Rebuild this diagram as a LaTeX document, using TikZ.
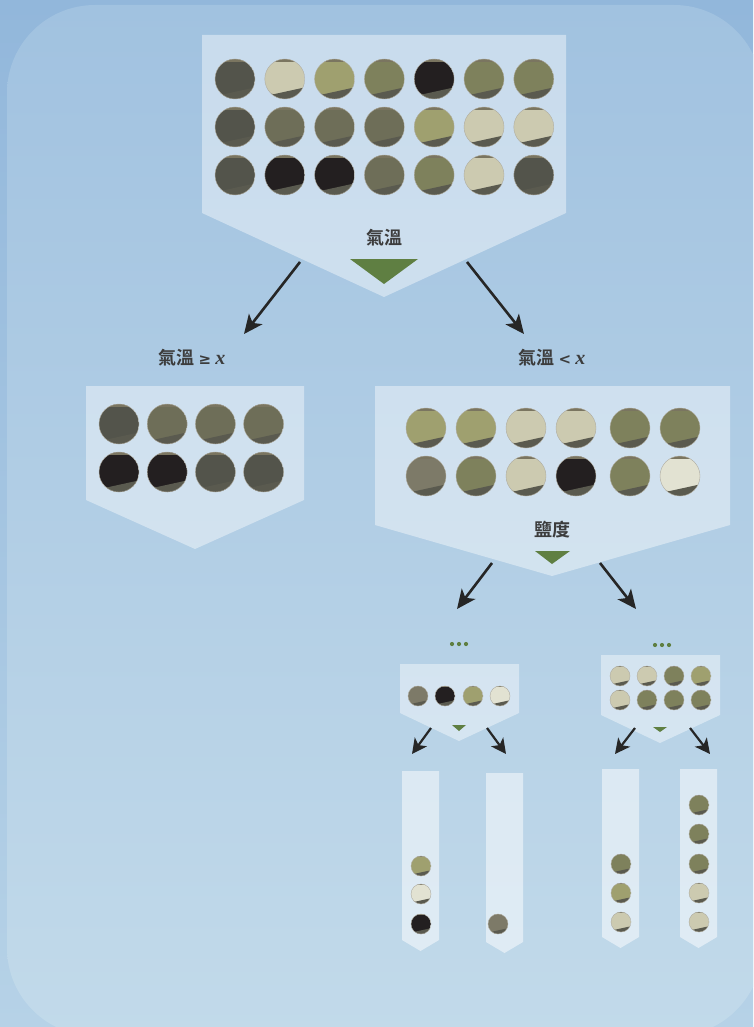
\documentclass[tikz,border=0pt]{standalone}
\usepackage{fontspec}
\newfontfamily\cjk{Noto Sans CJK TC}[BoldFont={* Bold}]
\newfontfamily\symfont{DejaVu Sans}
\newfontfamily\varfont{Liberation Serif}
\usetikzlibrary{arrows.meta}

\definecolor{bgtop}{HTML}{92B7DB}
\definecolor{bgbot}{HTML}{B6D2E7}
\definecolor{cardtop}{HTML}{A1C2E0}
\definecolor{cardbot}{HTML}{C2DAEA}
\definecolor{leaf}{HTML}{5F7F42}
\definecolor{ink}{HTML}{262626}
\definecolor{shadow}{HTML}{5A5A4F}
\definecolor{rim}{HTML}{7A7560}
% pebble colours
\definecolor{pD}{HTML}{53544B}
\definecolor{pK}{HTML}{231F20}
\definecolor{pL}{HTML}{CCCAB0}
\definecolor{pW}{HTML}{E2E2D2}
\definecolor{pY}{HTML}{9FA06F}
\definecolor{pO}{HTML}{7E815C}
\definecolor{pG}{HTML}{6E6E58}
\definecolor{pT}{HTML}{7D7A68}

\newcommand\relsym[1]{{\symfont\bfseries\fontsize{15}{18}\selectfont #1}}
\newcommand\varx{{\varfont\bfseries\itshape\fontsize{20}{20}\selectfont x}}

\tikzset{
  panel/.style={fill=white, fill opacity=0.42, draw=none},
  split/.style={draw=ink, line width=2.6pt, -{Stealth[length=19pt,width=17pt,inset=5pt]}},
  splitsm/.style={draw=ink, line width=2.2pt, -{Stealth[length=15pt,width=15pt,inset=4pt]}},
  cue/.style={fill=leaf, draw=none},
  feature/.style={font=\cjk\bfseries\fontsize{18}{20}\selectfont, text=ink!90!white},
  dots/.style={fill=leaf, draw=none},
}

% a pebble: centre x, centre y, radius, colour
\newcommand\pebble[4]{%
  \begin{scope}
    \clip (#1,#2) circle (#3);
    \fill[#4] (#1,#2) circle (#3);
    \fill[rim] (#1-#3,#2-0.86*#3) rectangle (#1+#3,#2-#3);
    \fill[shadow] (#1-#3,#2+0.66*#3) -- (#1-0.55*#3,#2+0.76*#3)
       -- (#1+#3,#2+0.42*#3) -- (#1+#3,#2+#3) -- (#1-#3,#2+#3) -- cycle;
  \end{scope}
  \draw[rim!60!white, line width=0.4pt] (#1,#2) circle (#3);
}

\begin{document}
\begin{tikzpicture}[x=1pt,y=-1pt]
\useasboundingbox (0,0) rectangle (753,1027);
\clip (0,0) rectangle (753,1027);

% backdrop and card
\shade[top color=bgtop, bottom color=bgbot] (0,0) rectangle (753,1027);
\shade[top color=cardtop, bottom color=cardbot, rounded corners=88pt]
  (7,5) rectangle (762,1036);

% ---------- root ----------
\fill[panel] (202,35) -- (566,35) -- (566,213) -- (384,297) -- (202,213) -- cycle;
\foreach \c [count=\i from 0] in {pD,pL,pY,pO,pK,pO,pO}
  \pebble{235+49.8*\i}{79}{20}{\c};
\foreach \c [count=\i from 0] in {pD,pG,pG,pG,pY,pL,pL}
  \pebble{235+49.8*\i}{127}{20}{\c};
\foreach \c [count=\i from 0] in {pD,pK,pK,pG,pO,pL,pD}
  \pebble{235+49.8*\i}{175}{20}{\c};
\node[feature] (rootlbl) at (384,238) {氣溫};
\fill[cue] (350,259) -- (418,259) -- (384,284) -- cycle;

\coordinate (rootL) at (300,262);
\coordinate (rootR) at (467,262);
\coordinate (leftIn) at (244,334);
\coordinate (rightIn) at (524,334);
\draw[split] (rootL) -- (leftIn);
\draw[split] (rootR) -- (rightIn);

\node[feature] (leftlbl) at (192,358) {氣溫 \relsym{≥} \varx};
\node[feature] (rightlbl) at (552,358) {氣溫 \relsym{<} \varx};

% ---------- left child ----------
\fill[panel] (86,386) -- (304,386) -- (304,500) -- (195,549) -- (86,500) -- cycle;
\foreach \c [count=\i from 0] in {pD,pG,pG,pG}
  \pebble{119+48.2*\i}{424}{20}{\c};
\foreach \c [count=\i from 0] in {pK,pK,pD,pD}
  \pebble{119+48.2*\i}{472}{20}{\c};

% ---------- right child ----------
\fill[panel] (375,386) -- (730,386) -- (730,525) -- (552,576) -- (375,525) -- cycle;
\foreach \c/\x in {pY/426,pY/476,pL/526,pL/576,pO/630,pO/680}
  \pebble{\x}{428}{20}{\c};
\foreach \c/\x in {pT/426,pO/476,pL/526,pK/576,pO/630,pW/680}
  \pebble{\x}{476}{20}{\c};
\node[feature] (saltlbl) at (552,530) {鹽度};
\fill[cue] (535,551) -- (570,551) -- (552,564) -- cycle;

\coordinate (saltL) at (492,563);
\coordinate (saltR) at (600,563);
\coordinate (smallLIn) at (457,609);
\coordinate (smallRIn) at (636,609);
\draw[split] (saltL) -- (smallLIn);
\draw[split] (saltR) -- (smallRIn);

% ---------- small subtrees ----------
\foreach \x in {452,459,466} \fill[dots] (\x,644) circle (2.1);
\foreach \x in {655,662,669} \fill[dots] (\x,645) circle (2.1);

\fill[panel] (400,664) -- (519,664) -- (519,713) -- (459,741) -- (400,713) -- cycle;
\foreach \c/\x in {pT/418,pK/445,pY/473,pW/500}
  \pebble{\x}{696}{10}{\c};
\fill[cue] (452,725) -- (466,725) -- (459,731) -- cycle;

\fill[panel] (601,655) -- (720,655) -- (720,715) -- (660,743) -- (601,715) -- cycle;
\foreach \c/\x in {pL/620,pL/647,pO/674,pY/701}
  \pebble{\x}{676}{10}{\c};
\foreach \c/\x in {pL/620,pO/647,pO/674,pO/701}
  \pebble{\x}{700}{10}{\c};
\fill[cue] (653,727) -- (667,727) -- (660,732) -- cycle;

\coordinate (aL1) at (431,728); \coordinate (bL1) at (412,754);
\coordinate (aL2) at (487,728); \coordinate (bL2) at (506,754);
\coordinate (aR1) at (635,728); \coordinate (bR1) at (615,754);
\coordinate (aR2) at (690,728); \coordinate (bR2) at (710,754);
\draw[splitsm] (aL1) -- (bL1);
\draw[splitsm] (aL2) -- (bL2);
\draw[splitsm] (aR1) -- (bR1);
\draw[splitsm] (aR2) -- (bR2);

% ---------- leaves ----------
\fill[panel, fill opacity=0.5] (402,771) -- (439,771) -- (439,940) -- (420.5,951) -- (402,940) -- cycle;
\foreach \c/\y in {pY/866,pW/894,pK/924} \pebble{421}{\y}{10}{\c};

\fill[panel, fill opacity=0.5] (486,773) -- (523,773) -- (523,942) -- (504.5,953) -- (486,942) -- cycle;
\pebble{498}{924}{10}{pT}

\fill[panel, fill opacity=0.5] (602,769) -- (639,769) -- (639,937) -- (620.5,948) -- (602,937) -- cycle;
\foreach \c/\y in {pO/864,pY/893,pL/922} \pebble{621}{\y}{10}{\c};

\fill[panel, fill opacity=0.5] (680,769) -- (717,769) -- (717,937) -- (698.5,948) -- (680,937) -- cycle;
\foreach \c/\y in {pO/805,pO/834,pO/864,pL/893,pL/922} \pebble{699}{\y}{10}{\c};

\end{tikzpicture}
\end{document}
